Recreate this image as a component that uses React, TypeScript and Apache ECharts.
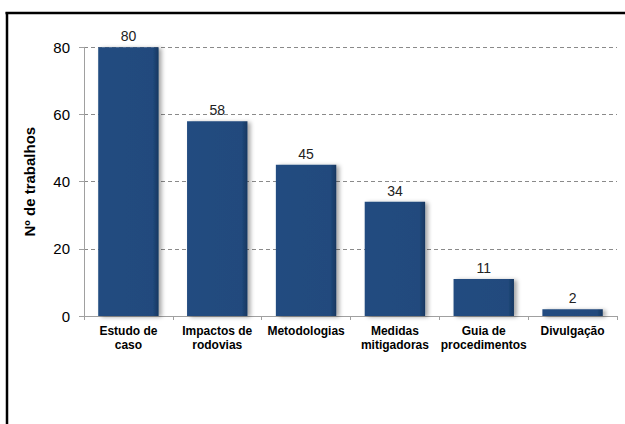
import React, { useEffect, useRef } from "react";
import * as echarts from "echarts";

const categories = [
  "Estudo de\ncaso",
  "Impactos de\nrodovias",
  "Metodologias",
  "Medidas\nmitigadoras",
  "Guia de\nprocedimentos",
  "Divulgação",
];
const values = [80, 58, 45, 34, 11, 2];
const yTicks = { min: 0, max: 80, interval: 20 };
const yTitle = "Nº de trabalhos";

export default function App() {
  const ref = useRef<HTMLDivElement>(null);
  useEffect(() => {
    if (!ref.current) return;
    const chart = echarts.init(ref.current, undefined, { renderer: "svg" });
    const font = "'Liberation Sans', Arial, sans-serif";
    chart.setOption({
      animation: false,
      backgroundColor: "#ffffff",
      graphic: [
        { type: "line", shape: { x1: 5.5, y1: 13, x2: 625, y2: 13 }, style: { stroke: "#000", lineWidth: 2.5 } },
        { type: "line", shape: { x1: 7, y1: 12, x2: 7, y2: 424 }, style: { stroke: "#000", lineWidth: 2.5 } },
      ],
      grid: { left: 84, right: 8, top: 47.3, bottom: 108 },
      xAxis: {
        type: "category",
        data: categories,
        axisLine: { lineStyle: { color: "#a0a0a0", width: 1 } },
        axisTick: { show: true, length: 4, alignWithLabel: false, lineStyle: { color: "#a0a0a0" } },
        axisLabel: {
          color: "#000",
          fontFamily: font,
          fontWeight: "bold",
          fontSize: 12,
          lineHeight: 14,
          margin: 8,
          interval: 0,
        },
      },
      yAxis: {
        type: "value",
        min: yTicks.min,
        max: yTicks.max,
        interval: yTicks.interval,
        name: yTitle,
        nameLocation: "middle",
        nameRotate: 90,
        nameGap: 47,
        nameTextStyle: { color: "#000", fontFamily: font, fontWeight: "bold", fontSize: 15 },
        axisLine: { show: true, lineStyle: { color: "#a0a0a0", width: 1 } },
        axisTick: { show: true, length: 5, lineStyle: { color: "#a0a0a0" } },
        axisLabel: { color: "#000", fontFamily: font, fontSize: 15, margin: 14 },
        splitLine: { show: true, lineStyle: { color: "#8a8a8a", type: [4, 3], width: 1 } },
      },
      series: [
        {
          type: "bar",
          data: values,
          barCategoryGap: "32%",
          itemStyle: {
            color: new echarts.graphic.LinearGradient(0, 0, 1, 0, [
              { offset: 0, color: "#234c80" },
              { offset: 0.9, color: "#214a7d" },
              { offset: 1, color: "#173760" },
            ]),
            shadowColor: "rgba(0,0,0,0.35)",
            shadowBlur: 4,
            shadowOffsetX: 3,
            shadowOffsetY: 1,
          },
          label: {
            show: true,
            position: "top",
            distance: 4,
            color: "#222",
            fontFamily: font,
            fontSize: 14,
          },
        },
      ],
    });
    return () => chart.dispose();
  }, []);
  return (
    <div
      ref={ref}
      style={{ position: "fixed", left: 0, top: 0, width: 625, height: 424 }}
    />
  );
}
